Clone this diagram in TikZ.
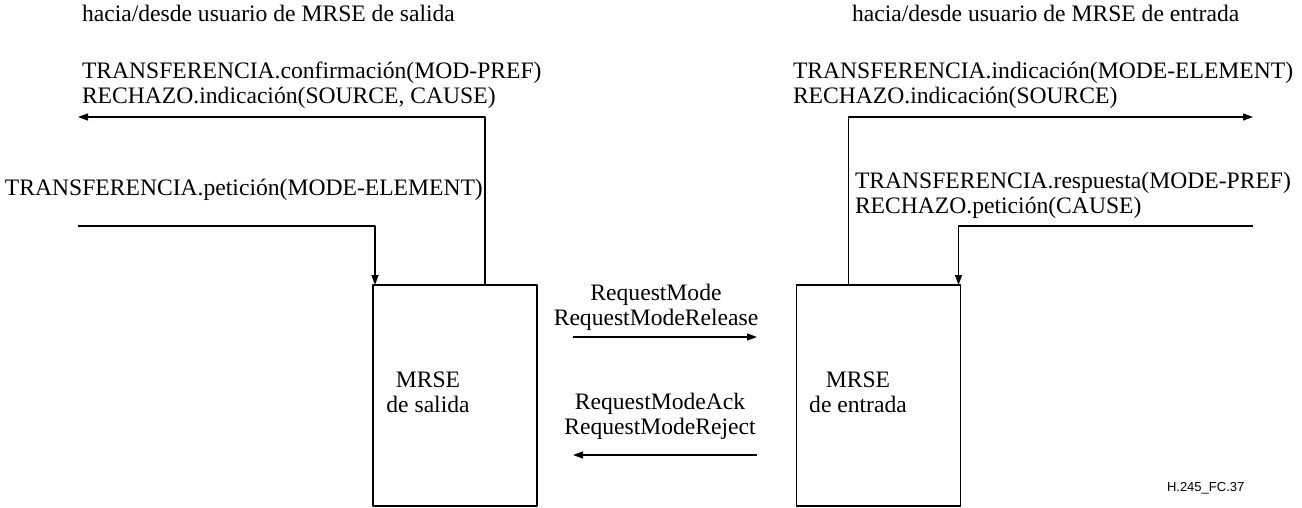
\documentclass[tikz,border=0pt]{standalone}
\usepackage{fontspec}
\setmainfont{Liberation Serif}
\setsansfont{Liberation Sans}
\usetikzlibrary{arrows.meta}

\begin{document}
\begin{tikzpicture}[x=1pt,y=-1pt,line join=round,>={Triangle[length=10pt,width=7pt]},line width=1.2pt,font=\fontsize{23.6}{25}\selectfont]
	\tikzset{every node/.style={inner sep=0pt,outer sep=0pt},
		txt/.style={anchor=base west},
		pair/.style={anchor=west,align=left},
		mid/.style={align=center},
		mrse/.style={draw,minimum width=164pt,minimum height=221pt}}
	\useasboundingbox (0,0) rectangle (1302,508);
	% bloques MRSE
	\node[mrse] (sal) at (455,395.5) {};
	\node[mrse] (ent) at (878.5,395.5) {};
	\node[mid] (salT) at (428,392) {MRSE\\de salida};
	\node[mid] (entT) at (858,392) {MRSE\\de entrada};
	% lado de salida
	\node[txt] (tsal) at (82,22) {hacia/desde usuario de MRSE de salida};
	\node[pair] (csal) at (82,85) {TRANSFERENCIA.confirmación(MOD-PREF)\\RECHAZO.indicación(SOURCE, CAUSE)};
	\node[txt] (psal) at (5,196) {TRANSFERENCIA.petición(MODE-ELEMENT)};
	\coordinate (oconf) at (78,117);
	\coordinate (opet) at (78,226);
	\draw[->] ([xshift=30pt]sal.north) |- (oconf);
	\draw[->] (opet) -| ([xshift=2pt]sal.north west);
	% lado de entrada
	\node[txt] (tent) at (852,22) {hacia/desde usuario de MRSE de entrada};
	\node[pair] (ient) at (793,85) {TRANSFERENCIA.indicación(MODE-ELEMENT)\\RECHAZO.indicación(SOURCE)};
	\node[pair] (rent) at (855,195) {TRANSFERENCIA.respuesta(MODE-PREF)\\RECHAZO.petición(CAUSE)};
	\coordinate (iind) at (1253,117);
	\coordinate (iresp) at (1253,226);
	\draw[->] ([xshift=-30pt]ent.north) |- (iind);
	\draw[->] (iresp) -| ([xshift=-2pt]ent.north east);
	% mensajes entre MRSE
	\node[mid] (req) at (656,307) {RequestMode\\RequestModeRelease};
	\node[mid] (ack) at (660,416) {RequestModeAck\\RequestModeReject};
	\coordinate (r1) at (573,337);
	\coordinate (r2) at (757,337);
	\coordinate (k1) at (757,455);
	\coordinate (k2) at (573,455);
	\draw[->] (r1) -- (r2);
	\draw[->] (k1) -- (k2);
	\node[font=\sffamily\fontsize{13}{15}\selectfont,anchor=west] (fc) at (1167,488) {H.245\_FC.37};
\end{tikzpicture}
\end{document}
